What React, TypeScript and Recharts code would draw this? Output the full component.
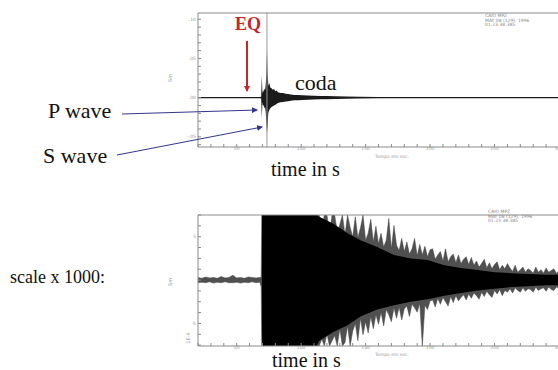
import React from "react";
import { ComposedChart, Area, XAxis, YAxis, ReferenceLine } from "recharts";

// top trace (raw), time in s, amplitude envelope low/high
const topTime = [20, 25, 30, 35, 40, 45, 50, 55, 60, 65, 68, 69,
  69.5, 70, 70.5, 71, 71.5, 72, 72.5, 73, 73.5, 74, 74.5, 75, 75.5, 76,
  77, 78, 79, 80, 81, 82,
  84, 86, 88, 90, 92, 95, 98, 101, 105, 110, 115, 120, 127, 135, 145, 160, 180, 200, 220, 240, 260, 280, 300];
const topHigh = [0.0008, 0.0009, 0.0007, 0.0008, 0.0009, 0.0008, 0.0007, 0.0008, 0.0009, 0.0008, 0.0008, 0.0012,
  0.028, 0.005, 0.010, 0.007, 0.012, 0.009, 0.016, 0.030, 0.060, 0.028, 0.018, 0.015, 0.019, 0.013,
  0.012, 0.010, 0.011, 0.008, 0.009, 0.007,
  0.006, 0.006, 0.005, 0.0045, 0.004, 0.0035, 0.0032, 0.003, 0.0027, 0.0024, 0.0022, 0.002, 0.0017, 0.0014, 0.0011, 0.0009, 0.0008, 0.0009, 0.0008, 0.0008, 0.0009, 0.0008, 0.0008];
const topLow = [-0.0008, -0.0007, -0.0009, -0.0008, -0.0008, -0.0009, -0.0008, -0.0007, -0.0008, -0.0009, -0.0008, -0.0012,
  -0.026, -0.006, -0.011, -0.009, -0.014, -0.012, -0.018, -0.032, -0.045, -0.036, -0.020, -0.017, -0.015, -0.014,
  -0.012, -0.011, -0.010, -0.009, -0.008, -0.007,
  -0.006, -0.0055, -0.005, -0.0045, -0.004, -0.0035, -0.0032, -0.003, -0.0027, -0.0024, -0.0022, -0.002, -0.0017, -0.0014, -0.0011, -0.0009, -0.0008, -0.0008, -0.0009, -0.0008, -0.0008, -0.0008, -0.0008];

// bottom trace (x1000), spikes envelope
const lowTime = [20, 23, 26, 29, 32, 35, 38, 41, 44, 47, 50, 53, 56, 59, 62, 65, 68, 69, 69.5,
  70, 72, 74, 76, 78, 80, 82, 84, 86, 88, 90, 92, 94, 96, 98, 100, 102, 104, 106, 108, 110, 112,
  114, 116, 118, 120, 122, 124,
  126, 128, 130, 132, 134, 136, 138, 140,
  142, 144, 146, 148, 150, 152, 154, 156, 158, 160,
  162, 164, 166, 168, 170, 172, 174, 176, 178, 180,
  182, 184, 186, 188, 190, 192, 194, 196, 198, 200,
  202, 204, 206, 208, 210, 212, 214, 216, 218, 220, 222, 224, 226, 228, 230,
  232, 234, 236, 238, 240, 242, 244, 246, 248, 250, 252, 254, 256, 258, 260,
  262, 264, 266, 268, 270, 272, 274, 276, 278, 280, 282, 284, 286, 288, 290, 292, 294, 296, 298, 300];
const lowHigh = [0.3, 0.2, 0.35, 0.25, 0.3, 0.2, 0.4, 0.25, 0.3, 0.55, 0.25, 0.3, 0.2, 0.35, 0.3, 0.25, 0.3, 0.3, 7.5,
  7.5, 7.5, 7.5, 7.5, 7.5, 7.5, 7.5, 7.5, 7.5, 7.5, 7.5, 7.5, 7.5, 7.5, 7.5, 7.5, 7.5, 7.5, 7.5, 7.5, 7.5, 7.5,
  7.5, 6.0, 7.5, 7.5, 5.5, 7.5,
  7.5, 5.6, 6.4, 7.5, 5.2, 7.5, 6.1, 5.0,
  7.3, 4.9, 6.0, 7.5, 4.6, 5.4, 7.0, 4.4, 6.2, 4.2,
  5.4, 3.8, 4.6, 7.1, 3.6, 6.3, 4.0, 3.4, 4.8, 3.3,
  4.4, 3.0, 3.6, 4.8, 2.8, 4.1, 2.9, 3.9, 2.7, 3.5,
  3.6, 2.4, 2.9, 3.3, 2.2, 3.6, 2.1, 2.7, 3.0, 2.0, 2.9, 1.9, 2.4, 2.7, 1.8,
  2.6, 1.7, 2.2, 1.5, 1.9, 2.4, 1.4, 2.0, 1.3, 1.8, 2.1, 1.2, 1.7, 1.3, 1.9,
  1.4, 1.0, 1.7, 0.9, 1.2, 1.5, 0.9, 1.3, 1.1, 0.8, 1.5, 0.9, 1.2, 0.8, 1.4, 0.9, 1.1, 1.3, 0.8, 1.0];
const lowLow = [-0.3, -0.25, -0.3, -0.2, -0.35, -0.25, -0.3, -0.2, -0.3, -0.3, -0.25, -0.35, -0.25, -0.3, -0.2, -0.3, -0.25, -0.8, -7.6,
  -7.6, -7.6, -7.6, -7.6, -7.6, -7.6, -7.6, -7.6, -7.6, -7.6, -7.6, -7.6, -7.6, -7.6, -7.6, -7.6, -7.6, -7.6, -7.6, -7.6, -7.6, -7.6,
  -7.6, -6.8, -7.6, -6.2, -7.6, -7.0,
  -6.4, -7.6, -5.6, -7.6, -7.2, -5.3, -7.6, -5.9,
  -5.0, -7.0, -4.4, -6.3, -4.8, -6.1, -4.2, -5.6, -4.0, -5.1,
  -3.7, -5.3, -3.4, -4.0, -4.8, -3.2, -4.4, -3.1, -4.6, -3.3,
  -3.0, -4.2, -2.8, -3.2, -3.7, -2.7, -7.6, -2.9, -3.4, -2.4,
  -2.3, -3.1, -2.1, -2.8, -2.0, -2.5, -3.0, -1.9, -2.6, -1.8, -2.4, -2.0, -1.7, -2.3, -1.6,
  -2.1, -1.5, -1.8, -2.2, -1.4, -1.9, -1.3, -1.7, -2.0, -1.2, -1.6, -1.1, -1.8, -1.2, -1.4,
  -1.0, -1.5, -0.9, -1.2, -1.4, -0.9, -1.3, -1.0, -1.1, -1.4, -0.8, -1.2, -1.0, -0.9, -1.3, -0.8, -1.1, -1.2, -0.8, -1.0];

// dense black core of the bottom trace
const coreTime = [69.6, 112, 114, 125, 136, 146, 159, 172, 185, 198, 211, 224, 237, 250, 263, 276, 290, 300];
const coreHigh = [7.5, 7.5, 7.3, 6.5, 5.4, 4.6, 3.8, 2.9, 2.5, 2.3, 1.7, 1.4, 1.15, 0.9, 0.8, 0.7, 0.6, 0.6];
const coreLow = [-7.6, -7.6, -7.0, -6.0, -5.2, -4.2, -3.4, -2.9, -2.5, -2.2, -1.8, -1.5, -1.2, -1.0, -0.8, -0.7, -0.6, -0.6];

const xTicks = [20, 30, 40, 50, 60, 70, 80, 90, 100, 110, 120, 130, 140, 150, 160, 170, 180, 190, 200, 210, 220, 230, 240, 250, 260, 270, 280, 290, 300];
const topYTicks = [-0.06, -0.05, -0.04, -0.03, -0.02, -0.01, 0, 0.01, 0.02, 0.03, 0.04, 0.05, 0.06, 0.07, 0.08, 0.09, 0.1];
const lowYTicks = [-7.5, -6.25, -5, -3.75, -2.5, -1.25, 0, 1.25, 2.5, 3.75, 5, 6.25, 7.5];

const topData = topTime.map((t, i) => ({ t, v: [topLow[i], topHigh[i]] }));
const lowData = lowTime.map((t, i) => ({ t, v: [lowLow[i], lowHigh[i]] }));
const coreData = coreTime.map((t, i) => ({ t, v: [coreLow[i], coreHigh[i]] }));

const AX = "#8a8a8a";
const tickStyle = { fontSize: 4.5, fill: "#999", fontFamily: "DejaVu Sans" };
const serif = "'Liberation Serif', 'Times New Roman', serif";

const fmtX = (v: number) => (v % 50 === 0 ? String(v) : "");
const fmtTopY = (v: number) => {
  const r = Math.round(v * 100);
  if (r % 5 !== 0) return "";
  const s = (Math.abs(r) / 100).toFixed(2).replace(/^0/, "");
  return r < 0 ? "-" + s : s;
};
const fmtLowY = (v: number) => (v === 5 ? "5" : v === -5 ? "-5" : "");

const Frame = ({ yDomain, yTicks, fmtY }: { yDomain: number[]; yTicks: number[]; fmtY: (v: number) => string }) => (
  <>
    <XAxis dataKey="t" type="number" domain={[20, 300]} ticks={xTicks} allowDataOverflow
      tickFormatter={fmtX} tick={tickStyle} tickSize={-3} tickMargin={3} height={20}
      stroke={AX} interval={0} />
    <XAxis xAxisId="top" orientation="top" type="number" domain={[20, 300]} ticks={xTicks}
      tick={false} tickSize={-3} height={1} stroke={AX} interval={0} />
    <YAxis type="number" domain={yDomain} ticks={yTicks} allowDataOverflow width={198}
      tickFormatter={fmtY} tick={tickStyle} tickSize={-3} tickMargin={5} stroke={AX} interval={0} />
    <YAxis yAxisId="r" orientation="right" type="number" domain={yDomain} ticks={yTicks}
      tick={false} tickSize={-3} width={1} stroke={AX} interval={0} />
  </>
);

const Header = ({ x, y }: { x: number; y: number }) => (
  <text x={x} y={y} fontSize={4.5} fill="#888" fontFamily="DejaVu Sans">
    <tspan x={x} dy={0}>CAIO   MPZ</tspan>
    <tspan x={x} dy={4.5}>MAY 08 (129), 1996</tspan>
    <tspan x={x} dy={4.5}>01:23:38.385</tspan>
  </text>
);

const App = () => {
  return (
    <div style={{ position: "absolute", left: 0, top: 0, width: 558, height: 370, overflow: "hidden", background: "#fff" }}>
      <div style={{ position: "absolute", left: 0, top: 0 }}>
        <ComposedChart width={600} height={167} data={topData} margin={{ top: 12, right: 40, left: 0, bottom: 0 }}>
          {Frame({ yDomain: [-0.063, 0.108], yTicks: topYTicks, fmtY: fmtTopY })}
          <ReferenceLine x={73.5} stroke="#999" strokeWidth={1} />
          <Area dataKey="v" type="linear" fill="#1a1a1a" fillOpacity={1} stroke="none" isAnimationActive={false} />
        </ComposedChart>
      </div>
      <div style={{ position: "absolute", left: 0, top: 200 }}>
        <ComposedChart width={600} height={166} data={lowData} margin={{ top: 14, right: 40, left: 0, bottom: 0 }}>
          {Frame({ yDomain: [-7.6, 7.5], yTicks: lowYTicks, fmtY: fmtLowY })}
          <Area dataKey="v" type="linear" fill="#505050" fillOpacity={1} stroke="#444" strokeWidth={0.5} isAnimationActive={false} />
          <Area data={coreData} dataKey="v" type="linear" fill="#000" fillOpacity={1} stroke="none" isAnimationActive={false} />
        </ComposedChart>
      </div>
      <svg width={558} height={370} style={{ position: "absolute", left: 0, top: 0, pointerEvents: "none" }}>
        <defs>
          <marker id="red" markerWidth="6" markerHeight="6" refX="5" refY="3" orient="auto" markerUnits="userSpaceOnUse">
            <path d="M0,0 L6,3 L0,6 z" fill="#c4262e" />
          </marker>
          <marker id="blue" markerWidth="6" markerHeight="6" refX="5" refY="3" orient="auto" markerUnits="userSpaceOnUse">
            <path d="M0,0 L6,3 L0,6 z" fill="#35358f" />
          </marker>
        </defs>
        <Header x={485} y={17} />
        <Header x={488} y={213} />
        <text x={392} y={158} fontSize={4.5} fill="#999" textAnchor="middle" fontFamily="DejaVu Sans">Tempo em sec.</text>
        <text x={392} y={356} fontSize={4.5} fill="#999" textAnchor="middle" fontFamily="DejaVu Sans">Tempo em sec.</text>
        <text transform="translate(172,78) rotate(-90)" fontSize={5} fill="#999" textAnchor="middle" fontFamily="DejaVu Sans">Sm</text>
        <text transform="translate(172,282) rotate(-90)" fontSize={5} fill="#999" textAnchor="middle" fontFamily="DejaVu Sans">Sm</text>
        <text transform="translate(190,338) rotate(-90)" fontSize={5} fill="#999" textAnchor="middle" fontFamily="DejaVu Sans">1E-4</text>

        <text x={235} y={30} fontSize={18} fontWeight="bold" fill="#c4262e" fontFamily={serif}>EQ</text>
        <line x1={247} y1={41} x2={247} y2={91} stroke="#c4262e" strokeWidth={2} markerEnd="url(#red)" />
        <text x={295} y={90} fontSize={22} fill="#111" fontFamily={serif}>coda</text>

        <text x={48} y={118} fontSize={22} fill="#111" fontFamily={serif}>P wave</text>
        <line x1={122} y1={114} x2={257} y2={110} stroke="#35358f" strokeWidth={1} markerEnd="url(#blue)" />
        <text x={43} y={163} fontSize={22} fill="#111" fontFamily={serif}>S wave</text>
        <line x1={117} y1={155} x2={262} y2={127} stroke="#35358f" strokeWidth={1} markerEnd="url(#blue)" />

        <text x={271} y={176} fontSize={20} fill="#111" fontFamily={serif}>time in s</text>
        <text x={272} y={367} fontSize={20} fill="#111" fontFamily={serif}>time in s</text>
        <text x={10} y={283} fontSize={18} fill="#111" fontFamily={serif}>scale x 1000:</text>
      </svg>
    </div>
  );
};

export default App;
